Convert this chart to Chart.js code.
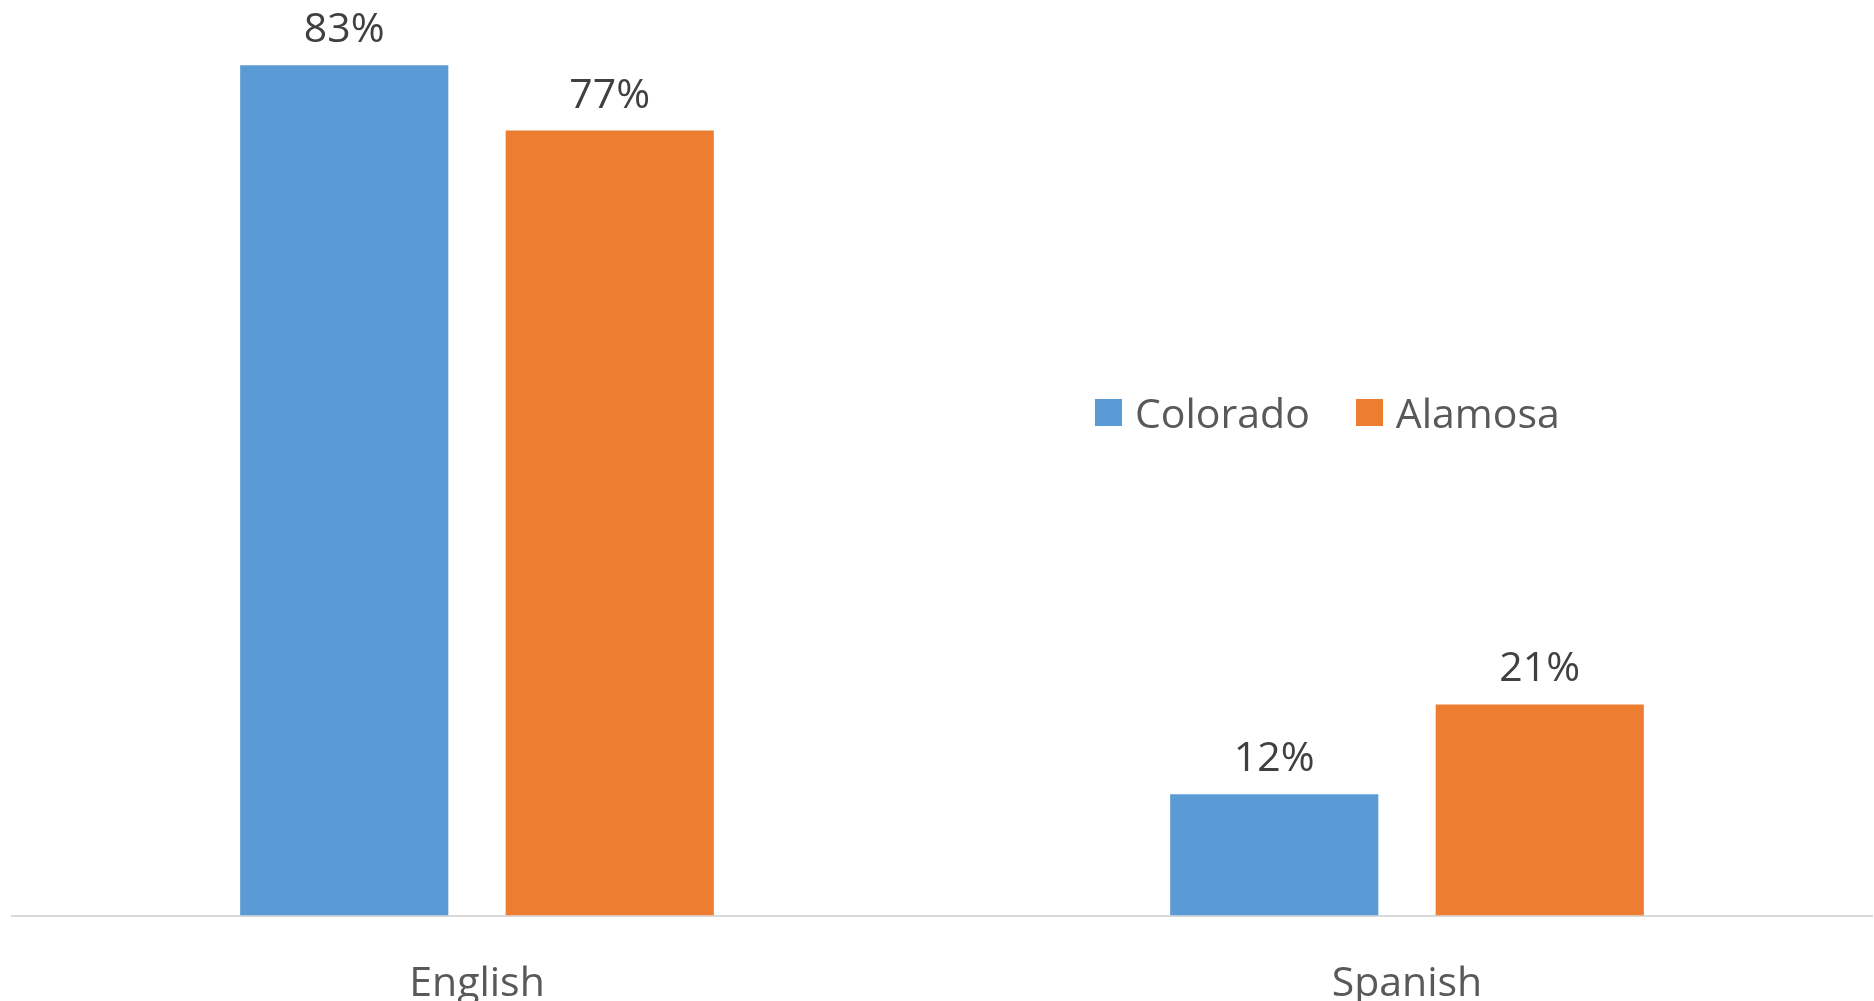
<!DOCTYPE html>
<html>
<head>
<meta charset="utf-8">
<script src="https://cdn.jsdelivr.net/npm/chart.js@4/dist/chart.umd.min.js"></script>
<style>
  html, body { margin: 0; padding: 0; background: #fff; overflow: hidden; }
  #wrap { position: relative; width: 1874px; height: 1001px; overflow: hidden; }
  #legend {
    position: absolute; left: 1095px; top: 386px;
    display: flex; align-items: center;
    font-family: 'Open Sans', sans-serif; font-size: 41px; color: #595959;
    line-height: 52px;
  }
  .item { display: flex; align-items: center; margin-right: 46px; }
  .box { width: 27px; height: 27px; margin-right: 13px; }
</style>
</head>
<body>
<div id="wrap">
  <canvas id="languageChart" width="1874" height="1047"></canvas>
  <div id="legend"></div>
</div>
<script>
const languages = ['English', 'Spanish'];
const coloradoValues = [83.4, 11.9];
const alamosaValues = [77.0, 20.7];
const seriesNames = ['Colorado', 'Alamosa'];
const seriesColors = ['#5B9BD5', '#ED7D31'];

const labelFont = "'Open Sans', sans-serif";

// value labels above each bar
const valueLabels = {
    id: 'valueLabels',
    afterDatasetsDraw(chart) {
        const ctx = chart.ctx;
        ctx.save();
        ctx.font = '41px ' + labelFont;
        ctx.fillStyle = '#404040';
        ctx.textAlign = 'center';
        ctx.textBaseline = 'alphabetic';
        chart.data.datasets.forEach((ds, i) => {
            chart.getDatasetMeta(i).data.forEach((bar, j) => {
                ctx.fillText(Math.round(ds.data[j]) + '%', bar.x, bar.y - 23);
            });
        });
        ctx.restore();
    }
};

let languageChart = new Chart(document.getElementById('languageChart'), {
    type: 'bar',
    data: {
        labels: languages,
        datasets: [{
            label: seriesNames[0],
            data: coloradoValues,
            backgroundColor: seriesColors[0]
        },
        {
            label: seriesNames[1],
            data: alamosaValues,
            backgroundColor: seriesColors[1]
        }]
    },
    options: {
        responsive: false,
        animation: false,
        barPercentage: 0.784,
        categoryPercentage: 0.571,
        layout: {
            padding: { top: 49, left: 12, right: 2, bottom: 2.5 }
        },
        plugins: {
            legend: { display: false },
            tooltip: { enabled: false }
        },
        scales: {
            x: {
                grid: { display: false },
                border: { display: true, color: '#D9D9D9', width: 2 },
                ticks: {
                    color: '#595959',
                    padding: 40,
                    font: { family: labelFont, size: 41, lineHeight: 1.0 }
                }
            },
            y: {
                display: false,
                min: 0,
                max: 85
            }
        }
    },
    plugins: [valueLabels]
});

// legend built from the series
const legend = document.getElementById('legend');
seriesNames.forEach((name, i) => {
    const item = document.createElement('div');
    item.className = 'item';
    const box = document.createElement('div');
    box.className = 'box';
    box.style.background = seriesColors[i];
    const text = document.createElement('span');
    text.textContent = name;
    item.appendChild(box);
    item.appendChild(text);
    legend.appendChild(item);
});
</script>
</body>
</html>
